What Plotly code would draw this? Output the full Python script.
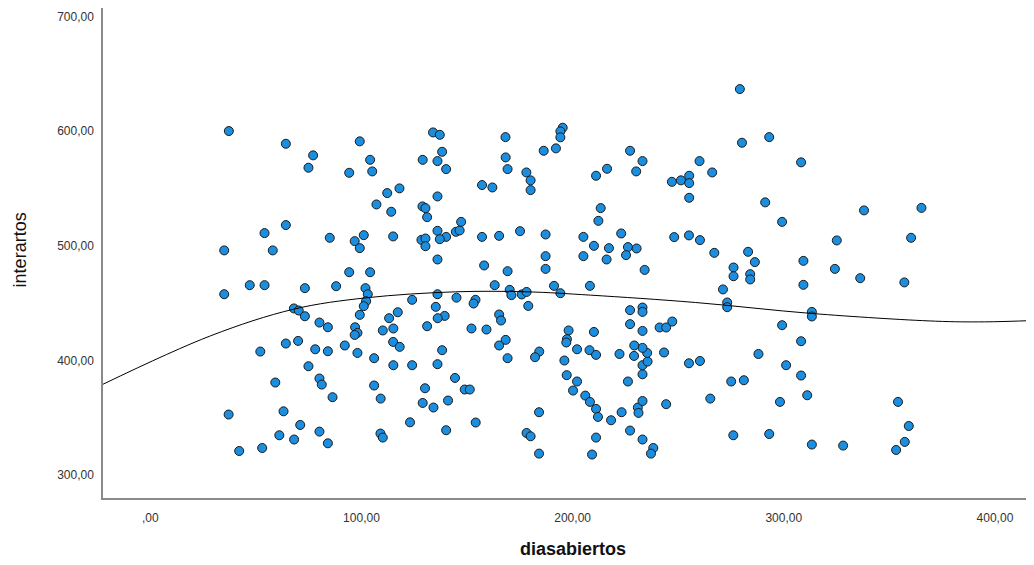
import plotly.graph_objects as go

# diasabiertos (x) and interartos (y) values
diasabiertos = [
    37.2, 64.2, 77.1, 74.9, 99.2, 104.1, 94.2, 105.1, 133.9, 137.1,
    138.2, 129.0, 136.0, 140.1, 118.0, 112.2, 107.1, 114.1, 136.0, 128.9,
    130.3, 131.1, 64.2, 54.1, 35.0, 58.0, 85.0, 101.1, 96.8, 99.2,
    115.0, 136.0, 144.7, 146.5, 140.1, 128.4, 130.3, 137.1, 130.3, 136.0,
    94.2, 104.1, 47.1, 54.1, 73.2, 88.0, 101.9,
    35.0, 103.0, 102.2, 101.1, 99.2, 68.0, 70.3, 73.2, 80.1, 84.1,
    97.0, 98.1, 96.8, 124.0, 136.0, 145.0, 135.2, 139.4, 136.1, 131.1,
    117.2, 113.1, 115.1, 110.1, 115.0, 118.1, 138.2, 52.1, 64.2, 70.0,
    78.1, 84.1, 92.1, 98.1, 106.0, 74.9, 115.1, 124.0, 136.0, 144.3,
    59.2, 80.1, 81.2, 86.3, 106.0, 109.1, 130.1, 129.0, 134.1, 141.0,
    37.1, 63.1, 71.0, 61.1, 68.1, 80.1, 84.1, 109.0, 110.1, 123.0,
    140.1, 42.1, 53.0,
    168.2, 195.3, 194.2, 194.2, 186.3, 192.1, 168.3, 169.2, 178.1, 180.1,
    180.1, 157.1, 162.0, 227.2, 233.1, 216.3, 211.1, 230.1, 247.0, 251.3,
    255.2, 255.2, 255.2, 213.3, 212.2, 147.2, 157.1, 165.2, 175.1, 187.2,
    205.1, 210.1, 217.2, 223.0, 226.2, 230.3, 225.3, 205.1, 216.1, 187.2,
    187.2, 158.1, 169.2, 234.1, 248.1, 255.1,
    163.1, 170.2, 171.0, 175.9, 178.2, 191.2, 194.2, 208.2, 154.0, 153.1,
    179.0, 165.2, 166.1, 152.1, 159.2, 168.3, 165.2, 169.2, 184.2, 182.2,
    198.1, 197.3, 197.0, 202.1, 208.0, 211.1, 210.1, 196.1, 197.2, 202.1,
    200.2, 206.0, 208.2, 211.1, 212.0, 218.2, 223.2, 227.2, 230.9, 231.2,
    233.1, 211.1, 209.2, 233.1, 238.2, 237.1, 244.3, 226.2, 233.1, 233.1,
    235.5, 235.3, 233.1, 229.2, 229.1, 222.2, 243.3, 255.1, 227.2, 233.1,
    233.1, 227.2, 233.1, 241.2, 244.3, 247.2, 148.9, 151.3, 154.1, 178.2,
    180.1, 184.1, 184.1,
    279.2, 280.2, 293.1, 260.1, 266.1, 308.2, 291.2, 299.2, 338.0, 365.2,
    260.3, 267.1, 283.1, 286.3, 276.2, 276.2, 284.1, 284.1, 309.3, 325.1,
    324.2, 336.2, 360.3, 357.1, 309.3, 271.2,
    273.2, 273.2, 313.3, 313.3, 299.2, 308.2, 288.0, 260.3, 301.1, 308.2,
    275.1, 281.1, 265.2, 298.2, 311.1, 354.1, 359.2, 357.3, 353.2, 276.1,
    293.1, 313.3, 328.1,
]
interartos = [
    600.2, 589.1, 579.0, 568.2, 591.2, 575.1, 563.8, 565.0, 599.0, 596.9,
    582.1, 575.1, 574.0, 567.0, 550.2, 546.1, 536.2, 529.8, 543.2, 534.5,
    533.0, 525.1, 518.2, 511.2, 496.1, 496.1, 507.1, 509.4, 504.2, 498.1,
    508.3, 513.2, 512.3, 513.5, 507.9, 505.3, 506.5, 505.9, 499.8, 488.2,
    477.1, 477.1, 465.8, 465.8, 463.2, 464.9, 463.2,
    457.9, 457.9, 451.8, 447.5, 439.9, 445.5, 443.7, 438.7, 433.2, 429.1,
    429.1, 424.2, 422.4, 453.0, 457.9, 454.9, 446.9, 439.0, 437.0, 430.0,
    442.2, 437.0, 428.0, 426.3, 416.3, 412.0, 409.1, 407.9, 414.9, 417.2,
    409.9, 408.2, 413.2, 406.7, 402.1, 395.1, 396.0, 396.0, 396.9, 384.9,
    380.9, 384.4, 379.1, 368.1, 378.3, 366.9, 375.9, 363.1, 359.1, 365.2,
    353.0, 355.8, 343.9, 334.9, 331.2, 338.1, 327.9, 336.4, 332.9, 346.2,
    339.3, 321.2, 323.8,
    594.9, 603.1, 599.9, 594.7, 583.0, 585.1, 577.2, 567.0, 564.1, 557.2,
    548.7, 553.1, 551.0, 583.0, 574.0, 567.3, 561.2, 565.0, 555.9, 557.2,
    561.2, 554.8, 542.0, 533.0, 521.9, 521.0, 507.9, 508.8, 512.9, 510.0,
    507.9, 500.1, 498.1, 510.9, 499.0, 497.8, 492.0, 491.1, 488.2, 491.1,
    480.0, 483.0, 478.0, 479.1, 507.7, 509.2,
    465.8, 461.7, 457.1, 457.7, 459.9, 465.2, 458.8, 465.2, 453.0, 449.8,
    447.7, 440.2, 435.0, 428.0, 427.1, 418.1, 413.2, 402.1, 407.9, 403.0,
    426.3, 418.7, 415.8, 409.9, 409.1, 405.0, 425.0, 400.1, 387.3, 381.8,
    373.9, 369.5, 364.0, 357.9, 350.9, 348.0, 355.0, 339.0, 359.1, 354.4,
    364.8, 332.9, 318.1, 331.2, 323.8, 318.9, 362.0, 381.8, 388.1, 396.0,
    399.2, 406.7, 411.1, 413.2, 404.1, 405.8, 407.1, 397.7, 444.0, 446.3,
    442.5, 431.8, 425.9, 428.9, 428.9, 434.1, 374.8, 374.8, 346.0, 336.9,
    334.0, 355.0, 318.9,
    636.8, 590.0, 594.9, 574.0, 564.1, 572.9, 538.0, 521.0, 531.0, 533.2,
    505.1, 494.0, 494.9, 485.9, 481.2, 473.6, 475.4, 470.8, 487.0, 504.8,
    480.0, 471.9, 507.1, 468.2, 466.1, 462.1,
    450.7, 446.6, 442.5, 438.5, 430.9, 416.9, 405.8, 399.7, 396.0, 387.0,
    381.8, 382.9, 366.9, 364.0, 369.8, 364.0, 343.0, 329.1, 322.1, 334.9,
    336.0, 326.8, 325.9,
]

# fit curve
fit_x = [-22.4, 28.5, 68.0, 101.9, 144.5, 178.4, 208.4, 258.1, 313.3, 371.8, 395.0, 418.5]
fit_y = [379.4, 421.6, 444.9, 454.7, 460.0, 460.0, 457.1, 450.7, 441.1, 434.4, 433.8, 435.0]

x_tickvals = [0, 100, 200, 300, 400]
x_ticktext = [",00", "100,00", "200,00", "300,00", "400,00"]
y_tickvals = [300, 400, 500, 600, 700]
y_ticktext = ["300,00", "400,00", "500,00", "600,00", "700,00"]

fig = go.Figure()
fig.add_trace(go.Scatter(
    x=diasabiertos, y=interartos, mode="markers",
    marker=dict(size=9, color="#1b8ee0", line=dict(color="#1a1a1a", width=1)),
    showlegend=False,
))
fig.add_trace(go.Scatter(
    x=fit_x, y=fit_y, mode="lines", line=dict(color="black", width=1, shape="spline"),
    showlegend=False,
))

# the page body adds an 8px offset, so the figure is 8px smaller than the window
fig.update_layout(
    width=1026, height=557,
    margin=dict(l=95, r=0, t=0, b=67, autoexpand=False),
    paper_bgcolor="white", plot_bgcolor="white",
    font=dict(family="Liberation Sans, Arial, sans-serif", color="#333333", size=12),
    annotations=[
        dict(text="<b>diasabiertos</b>", xref="paper", yref="paper", x=0.505, y=-0.105,
             xanchor="center", yanchor="middle", showarrow=False,
             font=dict(size=18, color="#111111", family="Liberation Sans, Arial")),
        dict(text="interartos", xref="paper", yref="paper", x=-0.0888, y=0.506,
             xanchor="center", yanchor="middle", showarrow=False, textangle=-90,
             font=dict(size=18, color="#111111", family="Liberation Sans, Arial")),
    ],
)
fig.update_xaxes(
    range=[-22.4, 418.5], showgrid=False, zeroline=False, automargin=False,
    showline=True, linecolor="#8a8a8a", linewidth=1.5,
    tickvals=x_tickvals, ticktext=x_ticktext, ticks="", ticklabelstandoff=8,
    tickfont=dict(size=12, color="#333333"),
)
fig.update_yaxes(
    range=[280.2, 707.5], showgrid=False, zeroline=False, automargin=False,
    showline=True, linecolor="#8a8a8a", linewidth=1.5,
    tickvals=y_tickvals, ticktext=y_ticktext, ticks="", ticklabelstandoff=5,
    tickfont=dict(size=12, color="#333333"),
)

fig.write_html("out.html")
